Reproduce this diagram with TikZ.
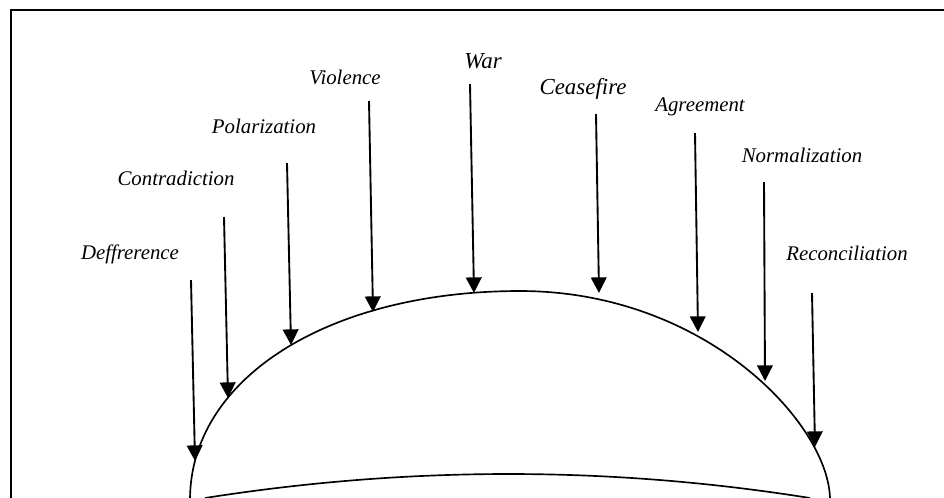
\documentclass[tikz,border=0pt]{standalone}
\usepackage{fontspec}
\setmainfont{Liberation Serif}
\usetikzlibrary{arrows.meta}
\tikzset{
  stagelabel/.style={font=\itshape\fontsize{10}{12}\selectfont, inner sep=0pt},
  biglabel/.style={font=\itshape\fontsize{11}{13}\selectfont, inner sep=0pt},
  stagearrow/.style={line width=0.9pt, -{Triangle[length=7.5pt,width=7.5pt]}}
}
\begin{document}
\begin{tikzpicture}[x=0.48pt, y=-0.48pt]
\useasboundingbox (0,0) rectangle (944,497);
% frame
\draw[line width=1pt] (11,500)--(11,10)--(950,10);
% labels
\node[stagelabel] (diff) at (130,254) {Deffrerence};
\node[stagelabel] (contra) at (176,178) {Contradiction};
\node[stagelabel] (polar) at (264,126) {Polarization};
\node[stagelabel] (viol) at (345,77) {Violence};
\node[biglabel] (war) at (483,61) {War};
\node[biglabel] (cease) at (583,89) {Ceasefire};
\node[stagelabel] (agree) at (700,107) {Agreement};
\node[stagelabel] (norm) at (802,155) {Normalization};
\node[stagelabel] (recon) at (847,253) {Reconciliation};
% arrow ends
\coordinate (diff-s) at (191,280);   \coordinate (diff-e) at (195,461);
\coordinate (contra-s) at (224,217); \coordinate (contra-e) at (228,398);
\coordinate (polar-s) at (287,163);  \coordinate (polar-e) at (291,345);
\coordinate (viol-s) at (369,101);   \coordinate (viol-e) at (373,312);
\coordinate (war-s) at (470,84);     \coordinate (war-e) at (474,293);
\coordinate (cease-s) at (596,114);  \coordinate (cease-e) at (599,293);
\coordinate (agree-s) at (695,133);  \coordinate (agree-e) at (698,332);
\coordinate (norm-s) at (764,182);   \coordinate (norm-e) at (765,381);
\coordinate (recon-s) at (812,293);  \coordinate (recon-e) at (815,447);
\draw[stagearrow] (diff-s)--(diff-e);
\draw[stagearrow] (contra-s)--(contra-e);
\draw[stagearrow] (polar-s)--(polar-e);
\draw[stagearrow] (viol-s)--(viol-e);
\draw[stagearrow] (war-s)--(war-e);
\draw[stagearrow] (cease-s)--(cease-e);
\draw[stagearrow] (agree-s)--(agree-e);
\draw[stagearrow] (norm-s)--(norm-e);
\draw[stagearrow] (recon-s)--(recon-e);
% curves
\coordinate (outer-l) at (190,500);
\coordinate (outer-t) at (520,291);
\coordinate (outer-r) at (830,500);
\draw[line width=0.8pt] (outer-l) .. controls (190,378) and (329,291) .. (outer-t)
  .. controls (706,291) and (830,425) .. (outer-r);
\coordinate (inner-l) at (205,498);
\coordinate (inner-r) at (810,498);
\draw[line width=0.8pt] (inner-l) .. controls (408,466) and (610,466) .. (inner-r);
\end{tikzpicture}
\end{document}
